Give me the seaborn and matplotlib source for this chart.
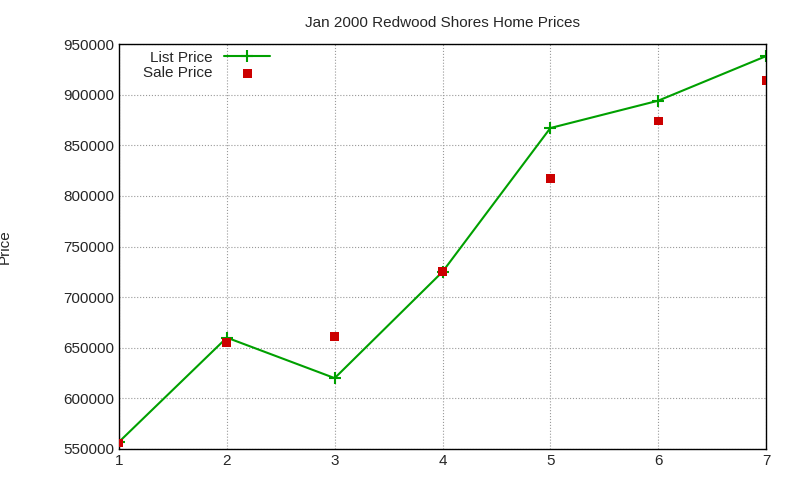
import matplotlib
matplotlib.use("Agg")
import matplotlib.pyplot as plt
import seaborn as sns
import pandas as pd

x = [1, 2, 3, 4, 5, 6, 7]
list_price = [557000, 660000, 620000, 725000, 867000, 894000, 938000]
sale_price = [556000, 655000, 661000, 725000, 817000, 874000, 914000]

sns.set_style("white")
plt.rcParams['font.family'] = ['Liberation Sans', 'DejaVu Sans']

fig = plt.figure(figsize=(8, 4.8), dpi=100)
ax = fig.add_axes([119/800, 1-449/480, (766-119)/800, (449-44)/480])

df = pd.DataFrame({"x": x, "list": list_price, "sale": sale_price})
sns.lineplot(data=df, x="x", y="list", ax=ax, color="#00a000", lw=1.5,
             marker="+", markersize=8, markeredgewidth=1.5,
             markeredgecolor="#00a000", label="List Price")
sns.scatterplot(data=df, x="x", y="sale", ax=ax, color="#cc0000", marker="s",
                s=40, edgecolor="none", label="Sale Price", zorder=3)

ax.set_xlim(1, 7)
ax.set_ylim(550000, 950000)
ax.set_xticks(range(1, 8))
ax.set_yticks(range(550000, 950001, 50000))
ax.set_yticklabels([str(v) for v in range(550000, 950001, 50000)])
ax.tick_params(labelsize=11, direction="in", length=5)
ax.grid(True, color="#999999", linestyle=":", linewidth=0.8)
for s in ax.spines.values():
    s.set_color("black")
    s.set_linewidth(1)
ax.set_xlabel("")
ax.set_ylabel("Price", fontsize=11, labelpad=38)
ax.yaxis.set_label_coords(-0.165, 0.5)
ax.set_title("Jan 2000 Redwood Shores Home Prices", fontsize=11, pad=12)

leg = ax.legend(loc="upper left", bbox_to_anchor=(0.02, 1.01), frameon=False,
                fontsize=11, markerfirst=False, handlelength=3, borderpad=0.2,
                labelspacing=0.1)
for h in leg.legend_handles:
    try:
        h.set_markeredgecolor("#00a000")
    except AttributeError:
        pass
for t in leg.get_texts():
    t.set_ha("right")

fig.savefig("out.png", dpi=100)
